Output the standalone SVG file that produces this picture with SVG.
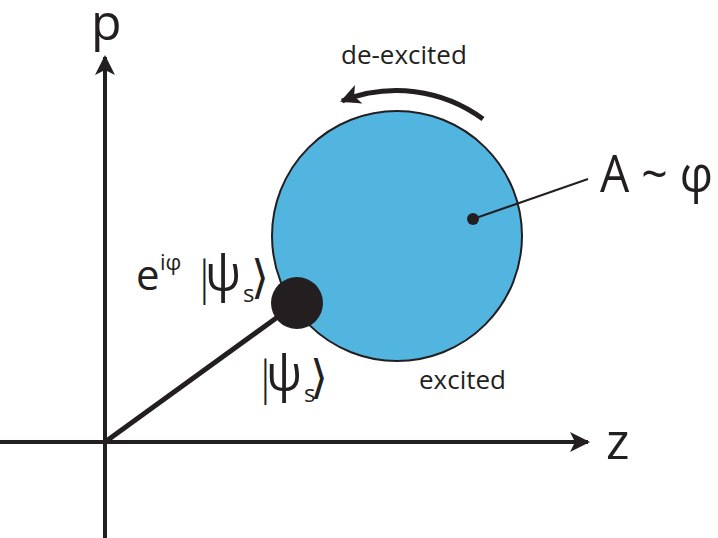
<svg xmlns="http://www.w3.org/2000/svg" width="718" height="538" viewBox="0 0 718 538">
<style>
text{font-family:"Open Sans","Liberation Sans",sans-serif;fill:#231f20}
.ax{stroke:#231f20;stroke-width:4;fill:none}
.big{font-size:50px}
.lbl{font-size:26px}
.bar{font-size:46px;font-weight:300}
.psi{font-size:50px}
.sub{font-size:24px}
</style>
<defs>
<marker id="ah" viewBox="0 0 10 10" refX="9" refY="5" markerWidth="5" markerHeight="5" markerUnits="strokeWidth" orient="auto">
<path d="M0,0 L10,5 L0,10 L2.5,5 z" fill="#231f20"/>
</marker>
<marker id="ah2" viewBox="0 0 10 10" refX="9" refY="5" markerWidth="5" markerHeight="4" markerUnits="strokeWidth" orient="auto">
<path d="M0,0 L10,5 L0,10 L2.5,5 z" fill="#231f20"/>
</marker>
</defs>
<g id="circle">
<circle cx="397" cy="236" r="125" fill="#52b5e0" stroke="#231f20" stroke-width="2"/>
</g>
<g id="connectors">
<line class="ax" x1="0" y1="442" x2="588" y2="442" marker-end="url(#ah)"/>
<line class="ax" x1="105" y1="538" x2="105" y2="57" marker-end="url(#ah)"/>
<line x1="105" y1="442" x2="297" y2="303" stroke="#231f20" stroke-width="5"/>
<path d="M483,119 A146,146 0 0 0 342,101" fill="none" stroke="#231f20" stroke-width="5" marker-end="url(#ah2)"/>
<line x1="473" y1="219" x2="588" y2="179" stroke="#231f20" stroke-width="2"/>
</g>
<g id="center">
<circle cx="473" cy="219" r="6" fill="#231f20"/>
</g>
<g id="state">
<circle cx="297" cy="303" r="26" fill="#231f20"/>
</g>
<g id="labels">
<text class="big" x="91" y="40">p</text>
<text class="big" x="606" y="459">z</text>
<text x="600" y="192" font-size="52" textLength="113" lengthAdjust="spacingAndGlyphs">A ~ φ</text>
<text class="lbl" x="341" y="64">de-excited</text>
<text class="lbl" x="419" y="389">excited</text>
<text x="136" y="290" font-size="42">e</text>
<text x="160" y="270" font-size="22">iφ</text>
<text class="bar" x="192" y="294">|</text>
<text class="psi" x="205" y="291" textLength="36" lengthAdjust="spacingAndGlyphs">ψ</text>
<text class="sub" x="243" y="302">s</text>
<text class="bar" x="251" y="293">⟩</text>
<text class="bar" x="253" y="394">|</text>
<text class="psi" x="266" y="391" textLength="36" lengthAdjust="spacingAndGlyphs">ψ</text>
<text class="sub" x="304" y="402">s</text>
<text class="bar" x="310" y="393">⟩</text>
</g>
</svg>
